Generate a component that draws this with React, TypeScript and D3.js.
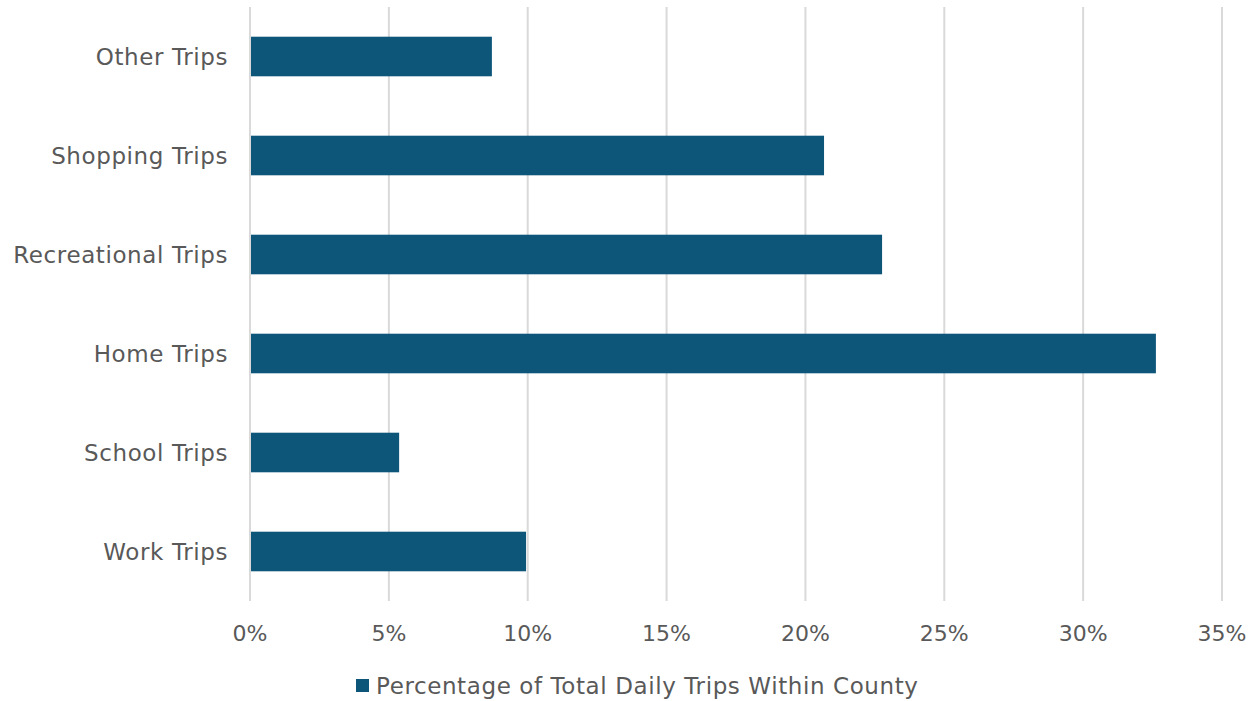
import React from "react";
import * as d3 from "d3";

const categories = ["Other Trips", "Shopping Trips", "Recreational Trips", "Home Trips", "School Trips", "Work Trips"];
const values = [8.71, 20.67, 22.76, 32.62, 5.37, 9.94];
const xTicks = [0, 5, 10, 15, 20, 25, 30, 35];
const seriesName = "Percentage of Total Daily Trips Within County";

const W = 1250, H = 701;
const FONT = "'DejaVu Sans', sans-serif";
const TEXT = "#595959";
const BAR = "#0E5679";
const GRID = "#D9D9D9";

export default function App() {
  const x = d3.scaleLinear().domain([0, 35]).range([250, 1222]);
  const y = d3.scaleBand().domain(categories).range([7, 601]).paddingInner(0.6).paddingOuter(0.3);
  return (
    <svg width={W} height={H} style={{ position: "absolute", left: 0, top: 0, background: "#fff" }}>
      {xTicks.map((t) => (
        <g key={t}>
          <line x1={x(t)} x2={x(t)} y1={7} y2={601} stroke={GRID} strokeWidth={2} />
          <text x={x(t)} y={641} textAnchor="middle" fontFamily={FONT} fontSize={22} fill={TEXT}>{t}%</text>
        </g>
      ))}
      {categories.map((c, i) => (
        <g key={c}>
          <rect x={x(0) + 1} y={y(c)!} width={x(values[i]) - x(0) - 1} height={y.bandwidth()} fill={BAR} />
          <text x={228} y={y(c)! + y.bandwidth() / 2} dy="0.36em" textAnchor="end" fontFamily={FONT} fontSize={23} letterSpacing={0.6} fill={TEXT}>{c}</text>
        </g>
      ))}
      <rect x={356} y={679} width={13} height={13} fill={BAR} />
      <text x={376} y={694} fontFamily={FONT} fontSize={23} letterSpacing={0.6} fill={TEXT}>{seriesName}</text>
    </svg>
  );
}
